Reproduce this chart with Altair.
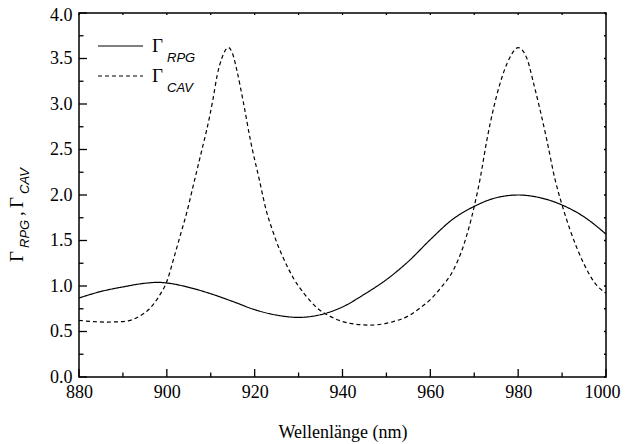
import altair as alt
import pandas as pd

# ---- data ----
wl_rpg = [880, 885, 890, 895, 898, 900, 905, 910, 915, 920, 925, 930, 935, 940,
          945, 950, 955, 960, 965, 970, 975, 980, 985, 990, 995, 1000]
g_rpg = [0.868, 0.94, 0.99, 1.03, 1.04, 1.033, 0.985, 0.915, 0.83, 0.74, 0.68, 0.655,
         0.685, 0.77, 0.91, 1.07, 1.27, 1.51, 1.73, 1.875, 1.97, 2.00, 1.97, 1.89,
         1.76, 1.57]

wl_cav = [880, 883, 886, 889, 891.4, 893.7, 896, 898.2, 900, 901.7, 903.2, 904.5,
          906, 908, 909.1, 910.5, 911.4, 912.5, 914, 915, 915.9, 917.5, 919, 921,
          922.8, 924, 925.1, 926.6, 928.9, 931.2, 934.2, 937.2, 941.7, 946.3, 950.9,
          955.5, 957.7, 960, 962.2, 965.3, 967.5, 970, 971.3, 972.9, 975.9, 978,
          980, 982, 983.5, 986.5, 988.4, 990, 991.8, 994.9, 997.2, 1000]
g_cav = [0.622, 0.61, 0.604, 0.607, 0.62, 0.666, 0.747, 0.886, 1.05, 1.325, 1.58, 1.80,
         2.10, 2.50, 2.72, 3.05, 3.30, 3.50, 3.62, 3.55, 3.38, 3.00, 2.61, 2.18,
         1.80, 1.62, 1.47, 1.30, 1.08, 0.92, 0.76, 0.666, 0.59, 0.57, 0.60,
         0.685, 0.76, 0.85, 0.97, 1.18, 1.435, 1.875, 2.17, 2.61, 3.23, 3.50,
         3.62, 3.50, 3.23, 2.61, 2.17, 1.89, 1.62, 1.25, 1.05, 0.92]

series_names = ["RPG", "CAV"]
x_major = [880, 900, 920, 940, 960, 980, 1000]
x_minor = [890, 910, 930, 950, 970, 990]
y_major = [0.0, 0.5, 1.0, 1.5, 2.0, 2.5, 3.0, 3.5, 4.0]
y_minor = [0.25, 0.75, 1.25, 1.75, 2.25, 2.75, 3.25, 3.75]

x_title = "Wellenlänge (nm)"

W, H = 527, 364
serif = "Liberation Serif"
sans = "Liberation Sans"

df = pd.concat([
    pd.DataFrame({"wl": wl_rpg, "g": g_rpg, "series": series_names[0]}),
    pd.DataFrame({"wl": wl_cav, "g": g_cav, "series": series_names[1]}),
])

xs = alt.Scale(domain=[880, 1000], nice=False, zero=False)
ys = alt.Scale(domain=[0, 4], nice=False, zero=False)
ax_common = dict(domain=False, ticks=False, grid=False, labelFlush=False,
                 labelOverlap=False, labelFont=serif, labelFontSize=18,
                 labelColor="black", titleFont=serif, titleFontSize=18,
                 titleFontWeight="normal", titleColor="black")
xa = alt.Axis(values=x_major, format="d", title=x_title, labelPadding=6,
              labelOffset={"condition": {"test": "datum.value == 1000", "value": -4},
                           "value": 0},
              titleY=60, titleBaseline="alphabetic", **ax_common)
ya = alt.Axis(values=y_major, format=".1f", title=None, labelPadding=7,
              labelOffset={"condition": {"test": "datum.value == 4", "value": 2},
                           "value": 0},
              **ax_common)

X = lambda: alt.X("wl:Q", scale=xs, axis=xa)
Y = lambda: alt.Y("g:Q", scale=ys, axis=ya)

lines = alt.Chart(df).mark_line(color="black", strokeWidth=1.2,
                                interpolate="monotone").encode(
    x=X(), y=Y(),
    strokeDash=alt.StrokeDash("series:N",
                              scale=alt.Scale(domain=series_names,
                                              range=[[1, 0], [4, 3]]),
                              legend=None),
    detail="series:N",
)

dxmaj = pd.DataFrame({"wl": x_major})
dxmin = pd.DataFrame({"wl": x_minor})
dymaj = pd.DataFrame({"g": y_major})
dymin = pd.DataFrame({"g": y_minor})

tk = dict(color="black", strokeWidth=1.3)
ticks = [
    alt.Chart(dxmaj).mark_rule(**tk).encode(x=X(), y=alt.value(H), y2=alt.value(H - 8)),
    alt.Chart(dxmin).mark_rule(**tk).encode(x=X(), y=alt.value(H), y2=alt.value(H - 4.5)),
    alt.Chart(dxmaj).mark_rule(**tk).encode(x=X(), y=alt.value(0), y2=alt.value(2)),
    alt.Chart(dxmin).mark_rule(**tk).encode(x=X(), y=alt.value(0), y2=alt.value(2)),
    alt.Chart(dymaj).mark_rule(**tk).encode(y=Y(), x=alt.value(0), x2=alt.value(8)),
    alt.Chart(dymin).mark_rule(**tk).encode(y=Y(), x=alt.value(0), x2=alt.value(4.5)),
    alt.Chart(dymaj).mark_rule(**tk).encode(y=Y(), x=alt.value(W), x2=alt.value(W - 2)),
    alt.Chart(dymin).mark_rule(**tk).encode(y=Y(), x=alt.value(W), x2=alt.value(W - 2)),
]

one = pd.DataFrame({"a": [0]})

def txt(s, x, y, size, font, style="normal", angle=0):
    return alt.Chart(one).mark_text(text=s, font=font, fontSize=size, fontStyle=style,
                                    align="left", baseline="alphabetic", color="black",
                                    angle=angle).encode(x=alt.value(x), y=alt.value(y))

legend = [
    alt.Chart(one).mark_rule(color="black", strokeWidth=1.2).encode(
        x=alt.value(19), x2=alt.value(64), y=alt.value(33)),
    alt.Chart(one).mark_rule(color="black", strokeWidth=1.2, strokeDash=[4, 3]).encode(
        x=alt.value(19), x2=alt.value(64), y=alt.value(63)),
    txt("Γ", 73, 39, 19, serif),
    txt("RPG", 88, 48.5, 13, sans, "italic"),
    txt("Γ", 73, 69, 19, serif),
    txt("CAV", 88, 78.5, 13, sans, "italic"),
]

ytitle = [
    txt("Γ", -56, 249, 19, serif, angle=270),
    txt("RPG", -50, 235, 13, sans, "italic", angle=270),
    txt(",", -56, 203, 19, serif, angle=270),
    txt("Γ", -56, 195, 19, serif, angle=270),
    txt("CAV", -50, 181, 13, sans, "italic", angle=270),
]

chart = alt.layer(lines, *ticks, *legend, *ytitle).properties(
    width=W, height=H,
    background="white",
    autosize=alt.AutoSizeParams(type="none"),
    padding={"left": 71, "top": 5, "right": 15, "bottom": 67},
).configure_view(
    stroke="black", strokeWidth=1.5
)

chart.save("out.html", embed_options={"renderer": "svg", "actions": False})
